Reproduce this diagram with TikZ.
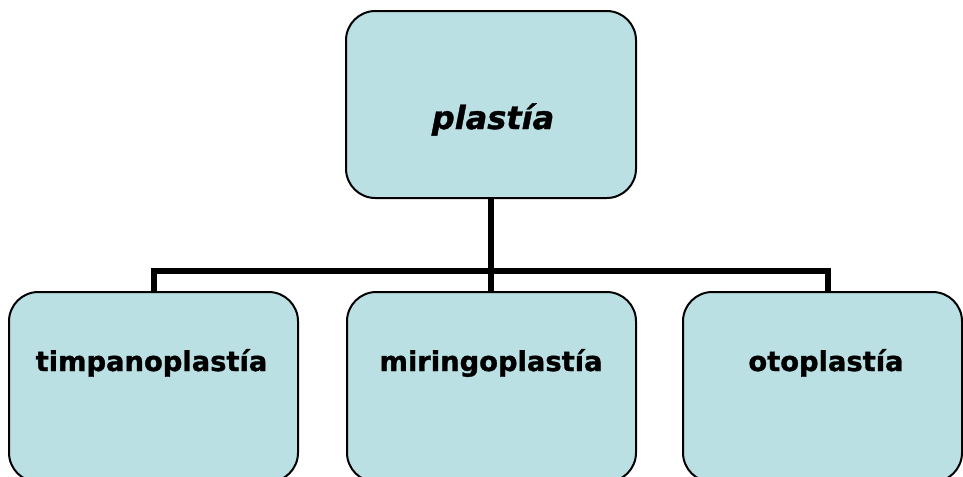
\documentclass[tikz,border=0pt]{standalone}
\usepackage{fontspec}
\setmainfont{DejaVu Sans}[BoldFeatures={FakeBold=1.2},BoldItalicFeatures={FakeBold=1.2}]
\usetikzlibrary{positioning}
\definecolor{BoxClr}{HTML}{BBE0E3}

\begin{document}
\begin{tikzpicture}[x=0.75pt,y=-0.75pt]
\tikzset{box/.style={draw=black,line width=1.5pt,fill=BoxClr,rounded corners=22pt,
    minimum width=216.75pt,minimum height=142.5pt,inner sep=0pt},
  boxtext/.style={anchor=base,inner sep=0pt,font=\fontsize{20.5}{24}\selectfont\bfseries},
  link/.style={line width=4.5pt}}
\useasboundingbox (0,0) rectangle (963,476);

% boxes
\node[box,minimum width=217.5pt,minimum height=140.25pt] (plastia) at (491,104.5) {};
\node[box] (timpano) at (153.5,387) {};
\node[box] (miringo) at (491.5,387) {};
\node[box,minimum width=209.25pt] (oto) at (822.5,387) {};

% texts
\node[boxtext,font=\fontsize{24}{28}\selectfont\bfseries\itshape] (plastiaT) at (493,129) {plastía};
\node[boxtext] (timpanoT) at (151.5,371) {timpanoplastía};
\node[boxtext] (miringoT) at (491,371) {miringoplastía};
\node[boxtext] (otoT) at (826,371) {otoplastía};

% connectors
\coordinate (bus) at (491,271);
\coordinate (otoJoin) at ([xshift=4pt]oto.north);
\draw[link] (plastia.south) -- (plastia.south |- miringo.north);
\draw[link] (timpano.north) -- (timpano.north |- bus) -- (otoJoin |- bus) -- (otoJoin);

\end{tikzpicture}
\end{document}
